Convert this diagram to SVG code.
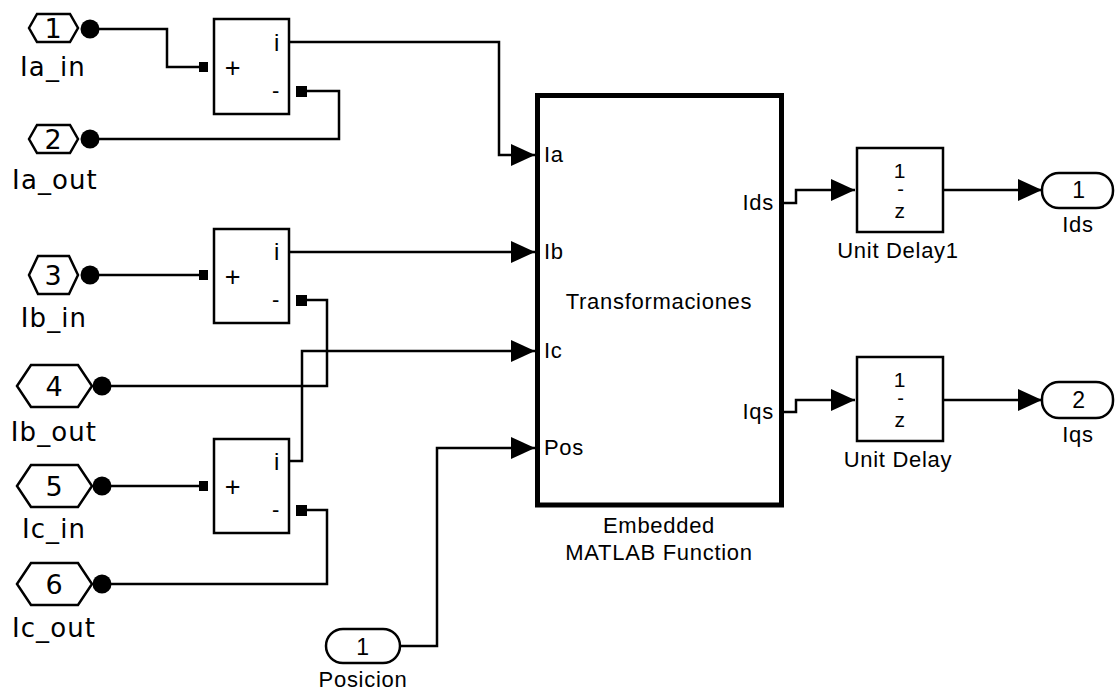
<svg xmlns="http://www.w3.org/2000/svg" width="1115" height="691" viewBox="0 0 1115 691">
<style>
.bg{fill:#fff}
.blk{fill:#fff;stroke:#000;stroke-width:2.5}
.main{fill:#fff;stroke:#000;stroke-width:5}
.w{fill:none;stroke:#000;stroke-width:2.5}
.dot{fill:#000}
.port{fill:#000}
.lbl{font-family:"DejaVu Sans",Verdana,sans-serif;font-size:26px;letter-spacing:1.1px;fill:#000;text-anchor:middle}
.num{font-family:"DejaVu Sans",Verdana,sans-serif;font-size:27px;fill:#000;text-anchor:middle}
.ar{font-family:"Liberation Sans",Arial,sans-serif;font-size:22px;letter-spacing:0.7px;fill:#000}
.c{text-anchor:middle}
.e{text-anchor:end}
</style>
<defs>
<marker id="arr" markerWidth="24" markerHeight="22" refX="24" refY="11" orient="auto" markerUnits="userSpaceOnUse">
<path d="M0,0 L24,11 L0,22 Z" fill="#000"/>
</marker>
</defs>
<rect class="bg" x="0" y="0" width="1115" height="691"/>

<g id="connectors">
<polyline class="w" points="99,29 167,29 167,67 200,67"/>
<polyline class="w" points="99,139 339,139 339,91 306,91"/>
<polyline class="w" points="289,42 499,42 499,155 535,155" marker-end="url(#arr)"/>
<polyline class="w" points="99,275 200,275"/>
<polyline class="w" points="306,300 327,300 327,386 111,386"/>
<polyline class="w" points="289,252 535,252" marker-end="url(#arr)"/>
<polyline class="w" points="289,461 302,461 302,351 535,351" marker-end="url(#arr)"/>
<polyline class="w" points="111,486 200,486"/>
<polyline class="w" points="306,510 327,510 327,584 111,584"/>
<polyline class="w" points="400,646 437,646 437,448 535,448" marker-end="url(#arr)"/>
<polyline class="w" points="784,203 796,203 796,190 855,190" marker-end="url(#arr)"/>
<polyline class="w" points="943,190 1042,190" marker-end="url(#arr)"/>
<polyline class="w" points="784,412 796,412 796,400 855,400" marker-end="url(#arr)"/>
<polyline class="w" points="943,400 1042,400" marker-end="url(#arr)"/>
</g>

<g id="from1">
<polygon class="blk" points="29,28 37,14 70,14 78,28 70,42 37,42"/>
<text class="num" x="53" y="38">1</text>
<circle class="dot" cx="90" cy="29" r="9.5"/>
<text class="lbl" x="53" y="76">Ia_in</text>
</g>
<g id="from2">
<polygon class="blk" points="29,139 37,125 70,125 78,139 70,153 37,153"/>
<text class="num" x="53" y="149">2</text>
<circle class="dot" cx="90" cy="139" r="9.5"/>
<text class="lbl" x="55" y="189">Ia_out</text>
</g>
<g id="from3">
<polygon class="blk" points="29,275 38,256 69,256 78,275 69,294 38,294"/>
<text class="num" x="53" y="285">3</text>
<circle class="dot" cx="90" cy="275" r="9.5"/>
<text class="lbl" x="54" y="327">Ib_in</text>
</g>
<g id="from4">
<polygon class="blk" points="17,386 31,365 78,365 92,386 78,407 31,407"/>
<text class="num" x="54" y="396">4</text>
<circle class="dot" cx="102" cy="386" r="9.5"/>
<text class="lbl" x="54" y="441">Ib_out</text>
</g>
<g id="from5">
<polygon class="blk" points="17,486 31,465 78,465 92,486 78,507 31,507"/>
<text class="num" x="54" y="496">5</text>
<circle class="dot" cx="102" cy="486" r="9.5"/>
<text class="lbl" x="54" y="538">Ic_in</text>
</g>
<g id="from6">
<polygon class="blk" points="17,584 31,563 78,563 92,584 78,605 31,605"/>
<text class="num" x="54" y="594">6</text>
<circle class="dot" cx="102" cy="584" r="9.5"/>
<text class="lbl" x="54" y="637">Ic_out</text>
</g>

<g id="sum1">
<rect class="blk" x="214" y="19" width="75" height="95"/>
<rect class="port" x="199" y="62" width="9" height="10"/>
<rect class="port" x="296" y="86" width="11" height="11"/>
<text class="ar c" x="233" y="77" style="font-size:27px">+</text>
<text class="ar c" x="277" y="51" style="font-size:24px">i</text>
<text class="ar c" x="276" y="98">-</text>
</g>
<g id="sum2">
<rect class="blk" x="214" y="229" width="75" height="94"/>
<rect class="port" x="199" y="270" width="9" height="10"/>
<rect class="port" x="296" y="295" width="11" height="11"/>
<text class="ar c" x="233" y="286" style="font-size:27px">+</text>
<text class="ar c" x="277" y="260" style="font-size:24px">i</text>
<text class="ar c" x="276" y="307">-</text>
</g>
<g id="sum3">
<rect class="blk" x="214" y="439" width="75" height="94"/>
<rect class="port" x="199" y="481" width="9" height="10"/>
<rect class="port" x="296" y="505" width="11" height="11"/>
<text class="ar c" x="233" y="496" style="font-size:27px">+</text>
<text class="ar c" x="277" y="470" style="font-size:24px">i</text>
<text class="ar c" x="276" y="517">-</text>
</g>

<g id="matlab">
<rect class="main" x="537.5" y="95.5" width="244" height="409.5"/>
<text class="ar" x="544" y="162">Ia</text>
<text class="ar" x="544" y="259">Ib</text>
<text class="ar" x="544" y="358">Ic</text>
<text class="ar" x="544" y="455">Pos</text>
<text class="ar e" x="774" y="210">Ids</text>
<text class="ar e" x="774" y="419">Iqs</text>
<text class="ar c" x="659" y="309">Transformaciones</text>
<text class="ar c" x="659" y="533">Embedded</text>
<text class="ar c" x="659" y="560">MATLAB Function</text>
</g>

<g id="posicion">
<rect class="blk" x="326" y="629" width="74" height="34" rx="17" ry="17"/>
<text class="ar c" x="363" y="655" style="font-size:23px">1</text>
<text class="ar c" x="363" y="687">Posicion</text>
</g>

<g id="unitdelay1">
<rect class="blk" x="857" y="148" width="86" height="84"/>
<text class="ar c" x="900" y="178" style="font-size:21px">1</text>
<text class="ar c" x="901" y="196" style="font-size:20px">-</text>
<text class="ar c" x="900" y="218" style="font-size:21px">z</text>
<text class="ar c" x="898" y="258">Unit Delay1</text>
</g>
<g id="unitdelay">
<rect class="blk" x="857" y="357" width="86" height="84"/>
<text class="ar c" x="900" y="387" style="font-size:21px">1</text>
<text class="ar c" x="901" y="405" style="font-size:20px">-</text>
<text class="ar c" x="900" y="427" style="font-size:21px">z</text>
<text class="ar c" x="898" y="467">Unit Delay</text>
</g>

<g id="out_ids">
<rect class="blk" x="1042" y="173" width="71" height="35" rx="17" ry="17"/>
<text class="ar c" x="1079" y="198" style="font-size:23px">1</text>
<text class="ar c" x="1078" y="232">Ids</text>
</g>
<g id="out_iqs">
<rect class="blk" x="1042" y="382" width="71" height="36" rx="17" ry="17"/>
<text class="ar c" x="1079" y="408" style="font-size:23px">2</text>
<text class="ar c" x="1078" y="442">Iqs</text>
</g>
</svg>
